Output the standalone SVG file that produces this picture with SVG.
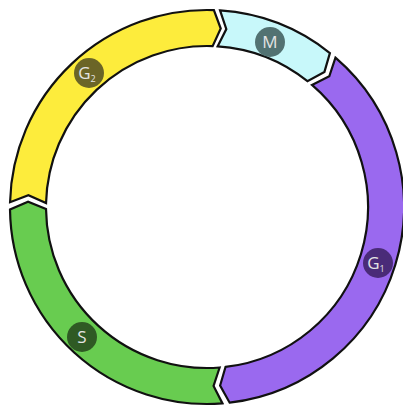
<svg xmlns="http://www.w3.org/2000/svg" width="403" height="408" viewBox="0 0 403 408">
<style>
.seg{stroke:#111;stroke-width:2.2;stroke-linejoin:miter}
.lbl{font-family:"Open Sans","Liberation Sans",sans-serif;font-size:17px;fill:#e4e4e4;text-anchor:middle}
.sub{font-size:9px}
</style>
<rect width="403" height="408" fill="#fff"/>
<g id="connectors"></g>
<g id="G2">
<path class="seg" fill="#fdec3c" d="M10.06,202.19 A197,197 0 0 1 213.88,10.12 L220.73,28.53 L212.62,46.10 A161,161 0 0 0 46.05,203.07 L28.39,195.14 Z"/>
<circle cx="89" cy="73" r="15" fill="#6b6527"/>
<text class="lbl" x="87" y="79">G<tspan class="sub" dy="3">2</tspan></text>
</g>
<g id="M">
<path class="seg" fill="#c8f8fa" d="M220.06,10.43 A197,197 0 0 1 329.89,53.03 L324.43,71.91 L307.43,81.17 A161,161 0 0 0 217.67,46.35 L226.33,29.05 Z"/>
<circle cx="270" cy="42" r="15" fill="#527272"/>
<text class="lbl" x="270" y="48">M</text>
</g>
<g id="G1">
<path class="seg" fill="#9a69ef" d="M335.46,57.65 A197,197 0 0 1 229.64,402.69 L220.11,385.52 L225.51,366.93 A161,161 0 0 0 311.99,84.94 L329.30,76.29 Z"/>
<circle cx="378" cy="263" r="15" fill="#4a2b78"/>
<text class="lbl" x="376" y="269">G<tspan class="sub" dy="3">1</tspan></text>
</g>
<g id="S">
<path class="seg" fill="#68cc50" d="M222.46,403.39 A197,197 0 0 1 10.01,209.41 L28.08,201.69 L46.01,208.97 A161,161 0 0 0 219.63,367.50 L213.56,385.88 Z"/>
<circle cx="82" cy="337" r="15" fill="#2f5a24"/>
<text class="lbl" x="82" y="343">S</text>
</g>
</svg>
